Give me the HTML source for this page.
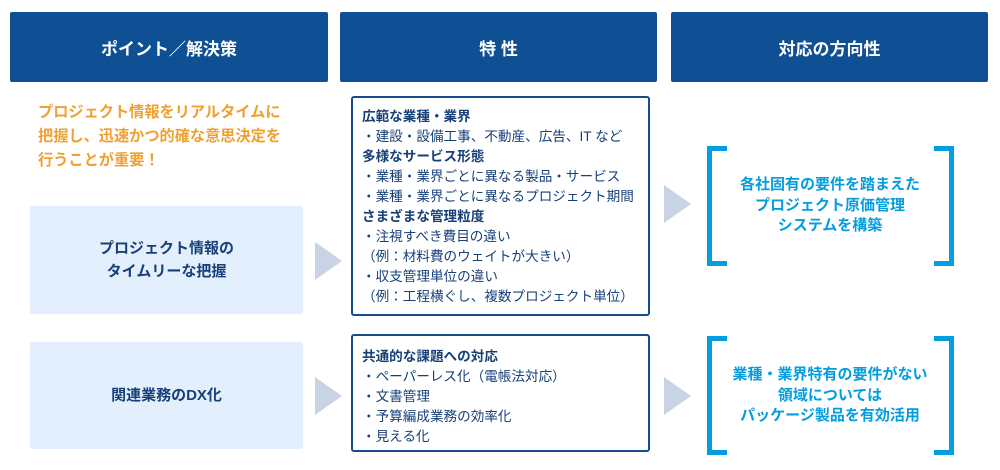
<!DOCTYPE html>
<html><head><meta charset="utf-8"><style>
*{margin:0;padding:0;box-sizing:border-box}
body{width:1000px;height:470px;background:#fff;position:relative;overflow:hidden;font-family:"Liberation Sans","Noto Sans CJK JP",sans-serif}
.a{position:absolute}
.h{background:#0f4f94;color:#fff;font-weight:bold;font-size:17px;display:flex;align-items:center;justify-content:center;top:12px;height:70px;border-radius:2px}
.lb{background:#e3effc;color:#17407a;font-weight:bold;font-size:15px;display:flex;align-items:center;justify-content:center;text-align:center;line-height:23px;left:30px;width:273px;border-radius:2px}
.mb{left:351px;width:299px;border:2px solid #164c8a;border-radius:3px;color:#17407a;font-size:13.6px;line-height:20px;padding:9px 0 0 9px}
.mb b{font-weight:bold}
.tri{width:0;height:0;border-top:19px solid transparent;border-bottom:19px solid transparent;border-left:27px solid #c8d4e3}
.br{border:5px solid #039de0;width:20px}
.bl{border-right:none}.brr{border-left:none}
.rt{left:727px;width:206px;text-align:center;color:#039de0;font-weight:bold;font-size:15px;line-height:20.5px}
</style></head><body>
<div class="a h" style="left:10px;width:318px">ポイント／解決策</div>
<div class="a h" style="left:340px;width:317px">特 性</div>
<div class="a h" style="left:671px;width:317px">対応の方向性</div>
<div class="a" style="left:38px;top:101px;color:#f0a030;font-weight:bold;font-size:15.2px;line-height:24px">プロジェクト情報をリアルタイムに<br>把握し、迅速かつ的確な意思決定を<br>行うことが重要！</div>
<div class="a lb" style="top:206px;height:108px">プロジェクト情報の<br>タイムリーな把握</div>
<div class="a lb" style="top:342px;height:107px">関連業務のDX化</div>
<div class="a tri" style="left:315px;top:242px"></div>
<div class="a tri" style="left:315px;top:377px"></div>
<div class="a tri" style="left:664px;top:185px"></div>
<div class="a tri" style="left:664px;top:377px"></div>
<div class="a mb" style="top:96px;height:220px"><b>広範な業種・業界</b><br>・建設・設備工事、不動産、広告、IT など<br><b>多様なサービス形態</b><br>・業種・業界ごとに異なる製品・サービス<br>・業種・業界ごとに異なるプロジェクト期間<br><b>さまざまな管理粒度</b><br>・注視すべき費目の違い<br>（例：材料費のウェイトが大きい）<br>・収支管理単位の違い<br>（例：工程横ぐし、複数プロジェクト単位）</div>
<div class="a mb" style="top:334px;height:118px;padding-top:11px"><b>共通的な課題への対応</b><br>・ペーパーレス化（電帳法対応）<br>・文書管理<br>・予算編成業務の効率化<br>・見える化</div>
<div class="a br bl" style="left:707px;top:146px;height:120px"></div>
<div class="a br brr" style="left:934px;top:146px;height:120px"></div>
<div class="a br bl" style="left:707px;top:336px;height:119px"></div>
<div class="a br brr" style="left:934px;top:336px;height:119px"></div>
<div class="a rt" style="top:175px">各社固有の要件を踏まえた<br>プロジェクト原価管理<br>システムを構築</div>
<div class="a rt" style="top:365px">業種・業界特有の要件がない<br>領域については<br>パッケージ製品を有効活用</div>
</body></html>
